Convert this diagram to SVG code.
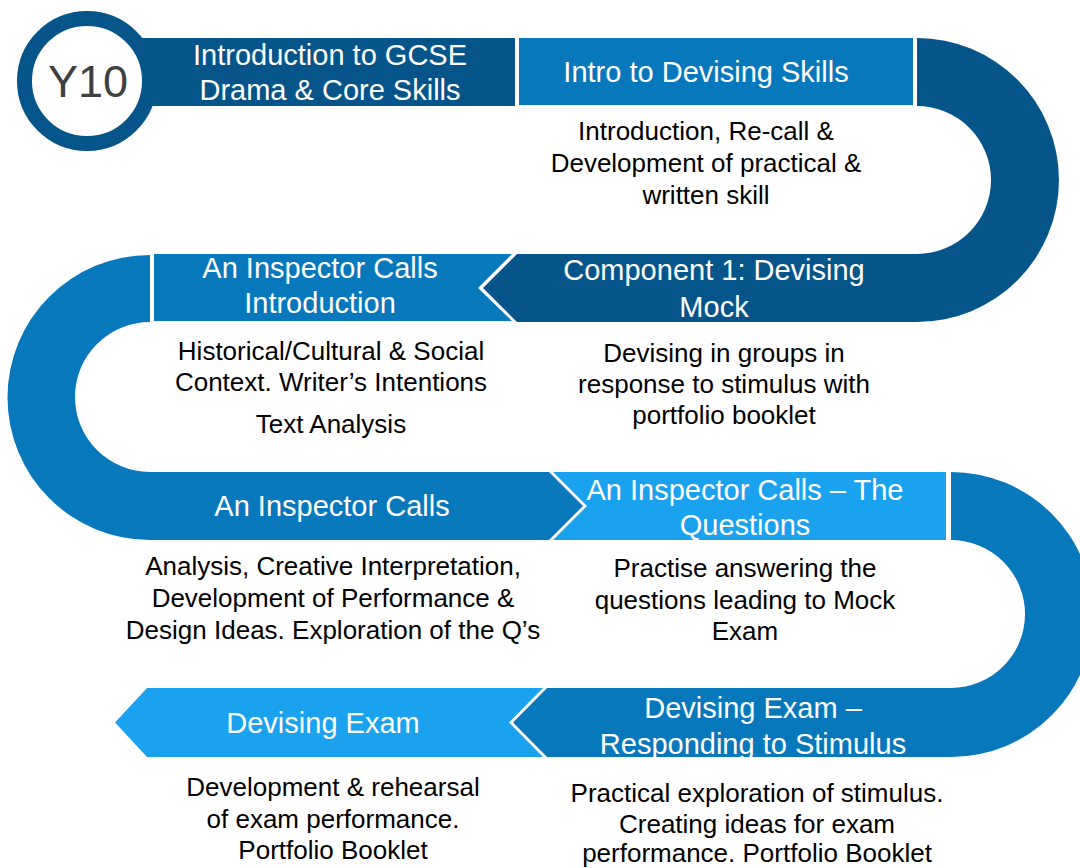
<svg xmlns="http://www.w3.org/2000/svg" width="1080" height="868" viewBox="0 0 1080 868">
<style>
.dark{fill:#06558A}
.mid{fill:#0878BD}
.light{fill:#1BA2EF}
.t{font-family:"Liberation Sans",Arial,sans-serif;fill:#fff;font-size:29px;text-anchor:middle}
.d{font-family:"Liberation Sans",Arial,sans-serif;fill:#000;font-size:26px;text-anchor:middle}
</style>
<rect width="1080" height="868" fill="#fff"/>
<g id="connectors">
<path class="dark" d="M917 38 A142 142 0 0 1 917 322 L517 322 L483 288 L517 254 L917 254 A74 74 0 0 0 917 106 Z"/>
<path class="mid" d="M150 255 A142.5 142.5 0 0 0 150 540 L549 540 L583 506 L549 472 L150 472 A75 75 0 0 1 150 322 Z"/>
<path class="mid" d="M951 472 A142.5 142.5 0 0 1 951 757 L547 757 L513 722.5 L547 688 L951 688 A74 74 0 0 0 951 540 Z"/>
</g>
<g id="n-intro-gcse">
<rect class="dark" x="130" y="38" width="385" height="68"/>
<circle cx="87" cy="81" r="62.5" fill="#fff" stroke="#06558A" stroke-width="15"/>
<text x="88" y="97" font-family="Liberation Sans,Arial,sans-serif" font-size="45" fill="#404040" text-anchor="middle">Y10</text>
<text class="t" x="330" y="65">Introduction to GCSE</text>
<text class="t" x="330" y="100">Drama &amp; Core Skills</text>
</g>
<g id="n-intro-devising">
<rect class="mid" x="519" y="38" width="394" height="67"/>
<text class="t" x="706" y="82">Intro to Devising Skills</text>
<text class="d" x="706" y="140">Introduction, Re-call &amp;</text>
<text class="d" x="706" y="172">Development of practical &amp;</text>
<text class="d" x="706" y="204">written skill</text>
</g>
<g id="n-component1">
<text class="t" x="714" y="280">Component 1: Devising</text>
<text class="t" x="714" y="317">Mock</text>
<text class="d" x="724" y="362">Devising in groups in</text>
<text class="d" x="724" y="393">response to stimulus with</text>
<text class="d" x="724" y="424">portfolio booklet</text>
</g>
<g id="n-aic-intro">
<path class="mid" d="M154 254 L512 254 L478 288 L512 321 L154 321 Z"/>
<text class="t" x="320" y="278">An Inspector Calls</text>
<text class="t" x="320" y="313">Introduction</text>
<text class="d" x="331" y="360">Historical/Cultural &amp; Social</text>
<text class="d" x="331" y="391">Context. Writer’s Intentions</text>
<text class="d" x="331" y="433">Text Analysis</text>
</g>
<g id="n-aic">
<text class="t" x="332" y="516">An Inspector Calls</text>
<text class="d" x="333" y="575">Analysis, Creative Interpretation,</text>
<text class="d" x="333" y="607">Development of Performance &amp;</text>
<text class="d" x="333" y="639">Design Ideas. Exploration of the Q’s</text>
</g>
<g id="n-aic-questions">
<path class="light" d="M553 472 L946 472 L946 540 L553 540 L587 506 Z"/>
<text class="t" x="745" y="500">An Inspector Calls – The</text>
<text class="t" x="745" y="535">Questions</text>
<text class="d" x="745" y="577">Practise answering the</text>
<text class="d" x="745" y="609">questions leading to Mock</text>
<text class="d" x="745" y="640">Exam</text>
</g>
<g id="n-devising-responding">
<text class="t" x="753" y="718">Devising Exam –</text>
<text class="t" x="753" y="754">Responding to Stimulus</text>
<text class="d" x="757" y="802">Practical exploration of stimulus.</text>
<text class="d" x="757" y="833">Creating ideas for exam</text>
<text class="d" x="757" y="862">performance. Portfolio Booklet</text>
</g>
<g id="n-devising-exam">
<path class="light" d="M147 688 L543 688 L509 722.5 L543 757 L147 757 L115 722.5 Z"/>
<text class="t" x="323" y="733">Devising Exam</text>
<text class="d" x="333" y="796">Development &amp; rehearsal</text>
<text class="d" x="333" y="828">of exam performance.</text>
<text class="d" x="333" y="859">Portfolio Booklet</text>
</g>
</svg>
